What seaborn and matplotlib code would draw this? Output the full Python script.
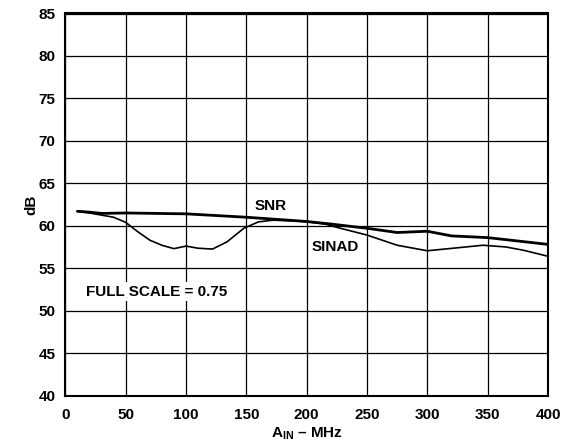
import matplotlib
matplotlib.use("Agg")
import matplotlib.pyplot as plt
import seaborn as sns
import pandas as pd

# Data
snr_freq = [10, 20, 30, 50, 75, 100, 125, 150, 175, 200, 220, 250, 275, 300, 320, 350, 375, 400]
snr_db = [61.7, 61.6, 61.45, 61.5, 61.45, 61.4, 61.2, 61.0, 60.75, 60.5, 60.2, 59.7, 59.2, 59.35, 58.8, 58.6, 58.2, 57.8]

sinad_freq = [10, 20, 30, 40, 50, 60, 70, 80, 90, 100, 110, 122, 134, 148, 160, 172, 185, 200,
              215, 228, 250, 275, 300, 325, 346, 365, 380, 400]
sinad_db = [61.7, 61.5, 61.25, 61.0, 60.4, 59.3, 58.3, 57.7, 57.3, 57.6, 57.35, 57.25, 58.1, 59.7,
            60.45, 60.65, 60.6, 60.47, 60.2, 59.7, 58.9, 57.7, 57.05, 57.4, 57.7, 57.5, 57.1, 56.4]

x_ticks = [0, 50, 100, 150, 200, 250, 300, 350, 400]
y_ticks = [40, 45, 50, 55, 60, 65, 70, 75, 80, 85]

sns.set_theme(style="white")
plt.rcParams['font.family'] = ['Liberation Sans', 'DejaVu Sans']
plt.rcParams['font.weight'] = 'bold'
plt.rcParams['text.color'] = 'black'
plt.rcParams['axes.labelcolor'] = 'black'
plt.rcParams['xtick.color'] = 'black'
plt.rcParams['ytick.color'] = 'black'
plt.rcParams['mathtext.fontset'] = 'custom'
plt.rcParams['mathtext.rm'] = 'Liberation Sans:bold'
plt.rcParams['mathtext.bf'] = 'Liberation Sans:bold'
plt.rcParams['mathtext.it'] = 'Liberation Sans:bold'

fs = 11

fig = plt.figure(figsize=(5.61, 4.48), dpi=100)
ax = fig.add_axes([65.3 / 561, 1 - 395.5 / 448, (548 - 65.3) / 561, (395.5 - 13.5) / 448])

df_snr = pd.DataFrame({"f": snr_freq, "db": snr_db})
df_sinad = pd.DataFrame({"f": sinad_freq, "db": sinad_db})

sns.lineplot(data=df_snr, x="f", y="db", ax=ax, color="black", linewidth=2.0, zorder=3)
sns.lineplot(data=df_sinad, x="f", y="db", ax=ax, color="black", linewidth=1.2, zorder=3)

ax.set_xlim(0, 400)
ax.set_ylim(40, 85)
ax.set_xticks(x_ticks)
ax.set_yticks(y_ticks)
ax.set_xticklabels([str(t) for t in x_ticks], fontsize=fs, fontweight='bold')
ax.set_yticklabels([str(t) for t in y_ticks], fontsize=fs, fontweight='bold')
ax.tick_params(axis='x', length=0, pad=9, colors='black')
ax.tick_params(axis='y', length=0, pad=7, colors='black')
ax.grid(True, color='black', linewidth=0.9)
ax.set_axisbelow(True)
for s in ax.spines.values():
    s.set_color('black')
    s.set_linewidth(1.5)
    s.set_visible(True)

ax.set_xlabel(r'$\mathregular{A_{IN}}$ – MHz', fontsize=fs, fontweight='bold')
ax.set_ylabel('dB', fontsize=fs, fontweight='bold')
ax.xaxis.set_label_coords((306.7 - 65.3) / 482.7, (395.5 - 426) / 382)
ax.yaxis.set_label_coords((38 - 65.3) / 482.7, 0.5)

ax.text(170, 62.3, 'SNR', fontsize=fs, fontweight='bold', ha='center', va='center')
ax.text(224, 57.55, 'SINAD', fontsize=fs, fontweight='bold', ha='center', va='center')
ax.text(17, 52.25, 'FULL SCALE = 0.75', fontsize=fs, fontweight='bold', ha='left', va='center',
        bbox=dict(facecolor='white', edgecolor='none', pad=2))

fig.savefig("out.png", dpi=100)
